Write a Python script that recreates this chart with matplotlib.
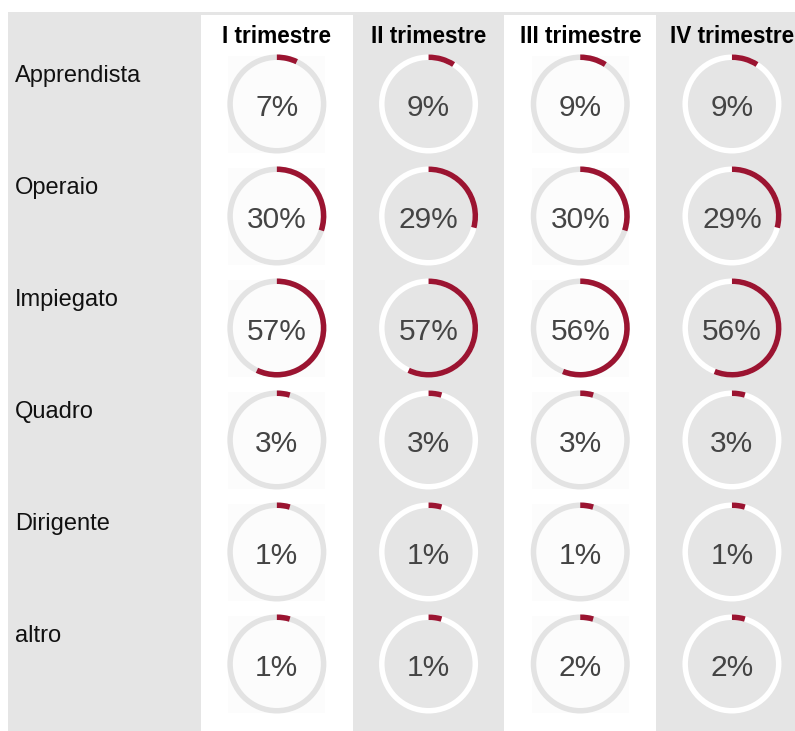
import matplotlib
matplotlib.use("Agg")
import matplotlib.pyplot as plt
from matplotlib.patches import Rectangle, Wedge

categories = ["Apprendista", "Operaio", "Impiegato", "Quadro", "Dirigente", "altro"]
quarters = ["I trimestre", "II trimestre", "III trimestre", "IV trimestre"]
q1 = [7, 30, 57, 3, 1, 1]
q2 = [9, 29, 57, 3, 1, 1]
q3 = [9, 30, 56, 3, 1, 2]
q4 = [9, 29, 56, 3, 1, 2]
series = [q1, q2, q3, q4]

W, H = 795, 731
fig = plt.figure(figsize=(W / 100, H / 100), dpi=100)
ax = fig.add_axes([0, 0, 1, 1])
ax.set_xlim(0, W)
ax.set_ylim(H, 0)
ax.axis("off")

GREY = "#e5e5e5"
RED = "#9b1431"
FONT = "Liberation Sans"

# background
ax.add_patch(Rectangle((8, 12), W - 8, H - 12, facecolor=GREY, edgecolor="none", zorder=0))

label_w = 201
col_w = 151.7
row0 = 104
row_h = 112
R = 49.5
ring_w = 5.5

for j, (qname, vals) in enumerate(zip(quarters, series)):
    x0 = label_w + j * col_w
    white = (j % 2 == 0)
    if white:
        ax.add_patch(Rectangle((x0, 15), col_w, H - 15, facecolor="white", edgecolor="none", zorder=1))
    cx = x0 + col_w / 2
    ax.text(cx, 43, qname, ha="center", va="baseline", fontsize=16.3, fontweight="bold",
            family=FONT, color="#000000", zorder=5)
    for i, v in enumerate(vals):
        cy = row0 + i * row_h
        if white:
            ax.add_patch(Rectangle((cx - 48.5, cy - 48.5), 97, 97, facecolor="#fcfcfc",
                                   edgecolor="none", zorder=2))
        track = "#e3e3e3" if white else "white"
        ax.add_patch(Wedge((cx, cy), R, 0, 360, width=ring_w, facecolor=track,
                           edgecolor="none", zorder=3))
        ang = max(3.6 * v, 16)
        ax.add_patch(Wedge((cx, cy), R, -90, -90 + ang, width=ring_w, facecolor=RED,
                           edgecolor="none", zorder=4))
        ax.text(cx, cy + 11.5, f"{v}%", ha="center", va="baseline", fontsize=21.5,
                family=FONT, color="#444444", zorder=5)

for i, cat in enumerate(categories):
    cy = row0 + i * row_h
    ax.text(15, cy - 22, cat, ha="left", va="baseline", fontsize=17, family=FONT,
            color="#111111", zorder=5)

fig.savefig("out.png", dpi=100)
